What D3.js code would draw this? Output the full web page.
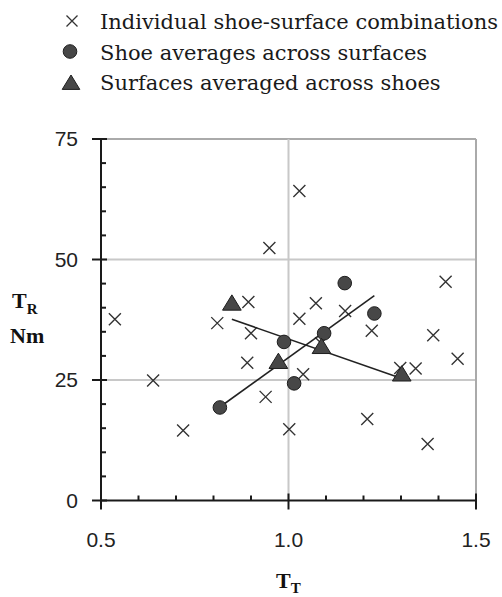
<!DOCTYPE html>
<html>
<head>
<meta charset="utf-8">
<script src="https://cdn.jsdelivr.net/npm/d3@7"></script>
<style>
  body { margin: 0; background: #fff; }
  svg { display: block; }
</style>
</head>
<body>
<div id="chart-area"></div>
<script>
// individual shoe-surface combinations
const comboX = [0.537, 0.639, 0.719, 0.810, 0.900, 0.890, 0.939, 0.893, 0.949, 1.029, 1.419, 1.029,
                1.073, 1.151, 1.222, 1.386, 1.451, 1.339, 1.039, 1.002, 1.210, 1.371, 1.298, 1.087];
const comboY = [37.6, 24.9, 14.5, 36.8, 34.7, 28.6, 21.5, 41.2, 52.4, 64.2, 45.4, 37.7,
                40.9, 39.3, 35.2, 34.3, 29.4, 27.4, 26.2, 14.8, 16.9, 11.7, 27.5, 32.6];

// shoe averages across surfaces
const shoeX = [0.817, 0.988, 1.015, 1.095, 1.150, 1.229];
const shoeY = [19.3, 32.9, 24.3, 34.7, 45.1, 38.8];

// surfaces averaged across shoes
const surfX = [0.849, 0.973, 1.088, 1.302];
const surfY = [40.9, 28.8, 31.9, 26.2];

// fitted lines, ends
const shoeLineX = [0.817, 1.229];
const shoeLineY = [19.4, 42.5];
const surfLineX = [0.849, 1.302];
const surfLineY = [37.6, 25.3];

const xTicks = [0.5, 1.0, 1.5];
const xTickLabels = ["0.5", "1.0", "1.5"];
const yTicks = [0, 25, 50, 75];

const legendNames = [
	"Individual shoe-surface combinations",
	"Shoe averages across surfaces",
	"Surfaces averaged across shoes"
];

const svg = d3.select("#chart-area").append("svg")
	.attr("width", 502)
	.attr("height", 597);

const x = d3.scaleLinear().domain([0.5, 1.5]).range([101, 476]);
const y = d3.scaleLinear().domain([0, 75]).range([500.5, 139]);

const markFill = "#474747";
const markStroke = "#1e1e1e";

// grid
svg.selectAll(".hgrid")
	.data(yTicks.filter(d => d > 0))
	.enter().append("line")
	.attr("x1", x(0.5)).attr("x2", x(1.5))
	.attr("y1", d => y(d)).attr("y2", d => y(d))
	.attr("stroke", d => d === 75 ? "#aaa" : "#c8c8c8")
	.attr("stroke-width", 2);

svg.selectAll(".vgrid")
	.data(xTicks.filter(d => d > 0.5))
	.enter().append("line")
	.attr("x1", d => x(d)).attr("x2", d => x(d))
	.attr("y1", y(0)).attr("y2", y(75))
	.attr("stroke", d => d === 1.5 ? "#aaa" : "#c8c8c8")
	.attr("stroke-width", 2);

// axes
const axisColor = "#1a1a1a";
svg.append("line")
	.attr("x1", x(0.5)).attr("x2", x(0.5))
	.attr("y1", y(0) + 1).attr("y2", y(75))
	.attr("stroke", axisColor).attr("stroke-width", 2);
svg.append("line")
	.attr("x1", x(0.5) - 1).attr("x2", x(1.5) + 1)
	.attr("y1", y(0)).attr("y2", y(0))
	.attr("stroke", axisColor).attr("stroke-width", 2);

// y ticks
svg.selectAll(".ytick")
	.data(d3.range(0, 76, 5))
	.enter().append("line")
	.attr("x1", d => d % 25 === 0 ? x(0.5) - 9 : x(0.5))
	.attr("x2", d => d % 25 === 0 ? x(0.5) + 6 : x(0.5) + 5)
	.attr("y1", d => y(d)).attr("y2", d => y(d))
	.attr("stroke", axisColor).attr("stroke-width", 2);

// x ticks
svg.selectAll(".xtick")
	.data(d3.range(5, 16).map(d => d / 10))
	.enter().append("line")
	.attr("x1", d => x(d)).attr("x2", d => x(d))
	.attr("y1", (d, i) => i % 5 === 0 ? y(0) + 9 : y(0))
	.attr("y2", (d, i) => i % 5 === 0 ? y(0) - 7 : y(0) - 5)
	.attr("stroke", axisColor).attr("stroke-width", 2);

svg.selectAll(".ylab")
	.data(yTicks)
	.enter().append("text")
	.attr("x", 78)
	.attr("y", d => y(d) + 7)
	.attr("text-anchor", "end")
	.attr("font-family", "Liberation Sans, Arial, sans-serif")
	.attr("font-size", 21)
	.attr("fill", "#222")
	.text(d => d);

svg.selectAll(".xlab")
	.data(xTicks)
	.enter().append("text")
	.attr("x", d => x(d))
	.attr("y", 547)
	.attr("text-anchor", "middle")
	.attr("font-family", "Liberation Sans, Arial, sans-serif")
	.attr("font-size", 21)
	.attr("fill", "#222")
	.text((d, i) => xTickLabels[i]);

// axis titles
const tr = svg.append("text")
	.attr("x", 12).attr("y", 308)
	.attr("font-family", "Liberation Serif, Times New Roman, serif")
	.attr("font-weight", "bold")
	.attr("font-size", 22)
	.attr("fill", "#111");
tr.append("tspan").text("T");
tr.append("tspan").attr("font-size", 15).attr("dy", 6).text("R");

svg.append("text")
	.attr("x", 10).attr("y", 343)
	.attr("font-family", "Liberation Serif, Times New Roman, serif")
	.attr("font-weight", "bold")
	.attr("font-size", 22)
	.attr("fill", "#111")
	.text("Nm");

const tt = svg.append("text")
	.attr("x", 276).attr("y", 588)
	.attr("font-family", "Liberation Serif, Times New Roman, serif")
	.attr("font-weight", "bold")
	.attr("font-size", 22)
	.attr("fill", "#111");
tt.append("tspan").text("T");
tt.append("tspan").attr("font-size", 15).attr("dy", 5).text("T");

// markers
const crossPath = s => `M${-s},${-s}L${s},${s}M${-s},${s}L${s},${-s}`;
const triPath = s => `M0,${-s}L${s * 1.1},${s * 0.8}L${-s * 1.1},${s * 0.8}Z`;

svg.selectAll(".combo")
	.data(comboX.map((d, i) => [d, comboY[i]]))
	.enter().append("path")
	.attr("transform", d => `translate(${x(d[0])},${y(d[1])})`)
	.attr("d", crossPath(6))
	.attr("fill", "none")
	.attr("stroke", "#333")
	.attr("stroke-width", 1.4);

const line = d3.line().x(d => x(d[0])).y(d => y(d[1]));

svg.append("path")
	.datum(shoeLineX.map((d, i) => [d, shoeLineY[i]]))
	.attr("d", line)
	.attr("stroke", "#222").attr("stroke-width", 1.6).attr("fill", "none");
svg.append("path")
	.datum(surfLineX.map((d, i) => [d, surfLineY[i]]))
	.attr("d", line)
	.attr("stroke", "#222").attr("stroke-width", 1.6).attr("fill", "none");

svg.selectAll(".shoe")
	.data(shoeX.map((d, i) => [d, shoeY[i]]))
	.enter().append("circle")
	.attr("cx", d => x(d[0]))
	.attr("cy", d => y(d[1]))
	.attr("r", 6.8)
	.attr("fill", markFill)
	.attr("stroke", markStroke)
	.attr("stroke-width", 1);

svg.selectAll(".surf")
	.data(surfX.map((d, i) => [d, surfY[i]]))
	.enter().append("path")
	.attr("transform", d => `translate(${x(d[0])},${y(d[1])})`)
	.attr("d", triPath(8.5))
	.attr("fill", markFill)
	.attr("stroke", markStroke)
	.attr("stroke-width", 1);

// legend
const legend = svg.selectAll(".legend")
	.data(legendNames)
	.enter().append("g")
	.attr("transform", (d, i) => `translate(0,${21 + i * 30.5})`);

legend.append("text")
	.attr("x", 100)
	.attr("y", 8)
	.attr("font-family", "DejaVu Serif, serif")
	.attr("font-size", 21)
	.attr("fill", "#1a1a1a")
	.text(d => d);

legend.filter((d, i) => i === 0).append("path")
	.attr("transform", "translate(72,0)")
	.attr("d", crossPath(5.5))
	.attr("stroke", "#333").attr("stroke-width", 1.3).attr("fill", "none");
legend.filter((d, i) => i === 1).append("circle")
	.attr("cx", 70).attr("cy", 0).attr("r", 6.8)
	.attr("fill", markFill).attr("stroke", markStroke);
legend.filter((d, i) => i === 2).append("path")
	.attr("transform", "translate(71,1)")
	.attr("d", triPath(8))
	.attr("fill", markFill).attr("stroke", markStroke);
</script>
</body>
</html>
